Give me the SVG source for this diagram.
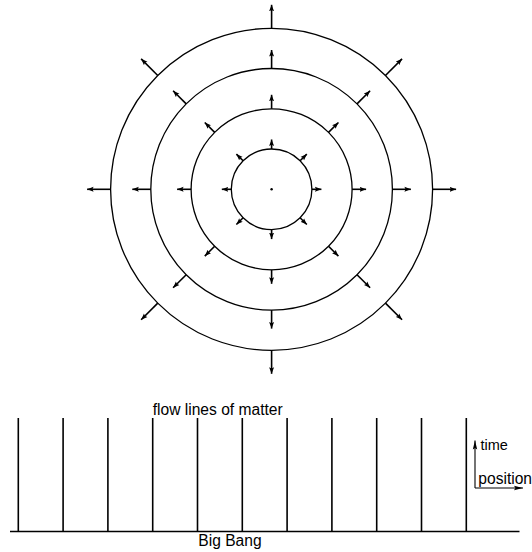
<svg xmlns="http://www.w3.org/2000/svg" width="532" height="552" viewBox="0 0 532 552">
<style>
.c{fill:none;stroke:#000;stroke-width:1.3}
.a{stroke:#000;stroke-width:1.6;marker-end:url(#ah)}
.ax{stroke:#000;stroke-width:1.1;marker-end:url(#ah2)}
.f{stroke:#000;stroke-width:1.6}
text{font-family:"Liberation Sans",Arial,sans-serif;font-size:15.6px;fill:#000}
</style>
<defs>
<marker id="ah" markerUnits="userSpaceOnUse" markerWidth="8" markerHeight="6" viewBox="0 -3 8 6" refX="6.5" refY="0" orient="auto">
<path d="M0,-2.5 L6.5,0 L0,2.5 L1.2,0 z" fill="#000"/>
</marker>
<marker id="ah2" markerUnits="userSpaceOnUse" markerWidth="10" markerHeight="6" viewBox="0 -3 10 6" refX="9" refY="0" orient="auto">
<path d="M0,-2.2 L9,0 L0,2.2 L1.5,0 z" fill="#000"/>
</marker>
</defs>
<g id="universe" transform="translate(271.6,189.3)">
<g id="ring1">
<circle class="c" r="40.3"/>
<circle r="1.2" fill="#000"/>
</g>
<g id="ring2"><circle class="c" r="80.5"/></g>
<g id="ring3"><circle class="c" r="120.8"/></g>
<g id="ring4"><circle class="c" r="161"/></g>
<g id="expansion-arrows">
<g transform="rotate(0)"><line class="a" x1="40.3" y1="0" x2="49.8" y2="0"/><line class="a" x1="80.5" y1="0" x2="94.5" y2="0"/><line class="a" x1="120.8" y1="0" x2="139.3" y2="0"/><line class="a" x1="161" y1="0" x2="184.5" y2="0"/></g>
<g transform="rotate(45)"><line class="a" x1="40.3" y1="0" x2="49.8" y2="0"/><line class="a" x1="80.5" y1="0" x2="94.5" y2="0"/><line class="a" x1="120.8" y1="0" x2="139.3" y2="0"/><line class="a" x1="161" y1="0" x2="184.5" y2="0"/></g>
<g transform="rotate(90)"><line class="a" x1="40.3" y1="0" x2="49.8" y2="0"/><line class="a" x1="80.5" y1="0" x2="94.5" y2="0"/><line class="a" x1="120.8" y1="0" x2="139.3" y2="0"/><line class="a" x1="161" y1="0" x2="184.5" y2="0"/></g>
<g transform="rotate(135)"><line class="a" x1="40.3" y1="0" x2="49.8" y2="0"/><line class="a" x1="80.5" y1="0" x2="94.5" y2="0"/><line class="a" x1="120.8" y1="0" x2="139.3" y2="0"/><line class="a" x1="161" y1="0" x2="184.5" y2="0"/></g>
<g transform="rotate(180)"><line class="a" x1="40.3" y1="0" x2="49.8" y2="0"/><line class="a" x1="80.5" y1="0" x2="94.5" y2="0"/><line class="a" x1="120.8" y1="0" x2="139.3" y2="0"/><line class="a" x1="161" y1="0" x2="184.5" y2="0"/></g>
<g transform="rotate(225)"><line class="a" x1="40.3" y1="0" x2="49.8" y2="0"/><line class="a" x1="80.5" y1="0" x2="94.5" y2="0"/><line class="a" x1="120.8" y1="0" x2="139.3" y2="0"/><line class="a" x1="161" y1="0" x2="184.5" y2="0"/></g>
<g transform="rotate(270)"><line class="a" x1="40.3" y1="0" x2="49.8" y2="0"/><line class="a" x1="80.5" y1="0" x2="94.5" y2="0"/><line class="a" x1="120.8" y1="0" x2="139.3" y2="0"/><line class="a" x1="161" y1="0" x2="184.5" y2="0"/></g>
<g transform="rotate(315)"><line class="a" x1="40.3" y1="0" x2="49.8" y2="0"/><line class="a" x1="80.5" y1="0" x2="94.5" y2="0"/><line class="a" x1="120.8" y1="0" x2="139.3" y2="0"/><line class="a" x1="161" y1="0" x2="184.5" y2="0"/></g>
</g>
</g>
<g id="spacetime">
<line class="f" x1="10" y1="531.5" x2="519.5" y2="531.5"/>
<line class="f" x1="18.3" y1="418" x2="18.3" y2="531.5"/>
<line class="f" x1="63.1" y1="418" x2="63.1" y2="531.5"/>
<line class="f" x1="107.9" y1="418" x2="107.9" y2="531.5"/>
<line class="f" x1="152.7" y1="418" x2="152.7" y2="531.5"/>
<line class="f" x1="197.5" y1="418" x2="197.5" y2="531.5"/>
<line class="f" x1="242.3" y1="418" x2="242.3" y2="531.5"/>
<line class="f" x1="287.1" y1="418" x2="287.1" y2="531.5"/>
<line class="f" x1="331.9" y1="418" x2="331.9" y2="531.5"/>
<line class="f" x1="376.7" y1="418" x2="376.7" y2="531.5"/>
<line class="f" x1="421.5" y1="418" x2="421.5" y2="531.5"/>
<line class="f" x1="466.3" y1="418" x2="466.3" y2="531.5"/>
<text x="152.7" y="415">flow lines of matter</text>
<text x="198.3" y="546">Big Bang</text>
</g>
<g id="axes">
<line class="ax" x1="475" y1="488" x2="475" y2="440.5"/>
<line class="ax" x1="475" y1="488" x2="523" y2="488"/>
<text x="480.5" y="449.5" style="font-size:14.5px">time</text>
<text x="478.3" y="484">position</text>
</g>
</svg>
